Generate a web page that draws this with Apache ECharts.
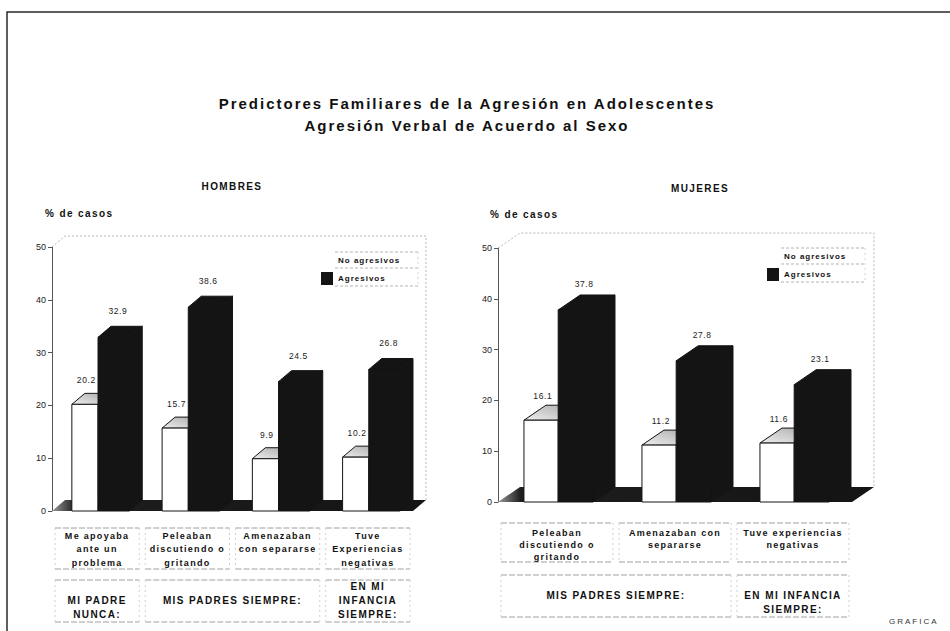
<!DOCTYPE html>
<html>
<head>
<meta charset="utf-8">
<script src="https://cdn.jsdelivr.net/npm/echarts@6/dist/echarts.min.js"></script>
<style>
  html, body { margin: 0; padding: 0; background: #fff; }
  #chart { width: 950px; height: 631px; }
</style>
</head>
<body>
<div id="chart"></div>
<script>
// ---- data ----
const titleLines = ['Predictores Familiares de la Agresión en Adolescentes', 'Agresión Verbal de Acuerdo al Sexo'];
const seriesNames = ['No agresivos', 'Agresivos'];
const axisName = '% de casos';
const footerText = 'GRAFICA';
const yTicks = [0, 10, 20, 30, 40, 50];

const hombresTitle = 'HOMBRES';
const hombresCategories = ['Me apoyaba\nante un\nproblema', 'Peleaban\ndiscutiendo o\ngritando', 'Amenazaban\ncon separarse', 'Tuve\nExperiencias\nnegativas'];
const hombresNoAgresivos = [20.2, 15.7, 9.9, 10.2];
const hombresAgresivos = [32.9, 38.6, 24.5, 26.8];
const hombresGroups = [
  { label: 'MI PADRE\nNUNCA:', from: 0, to: 0 },
  { label: 'MIS PADRES SIEMPRE:', from: 1, to: 2 },
  { label: 'EN MI\nINFANCIA\nSIEMPRE:', from: 3, to: 3 }
];

const mujeresTitle = 'MUJERES';
const mujeresCategories = ['Peleaban\ndiscutiendo o\ngritando', 'Amenazaban con\nsepararse', 'Tuve experiencias\nnegativas'];
const mujeresNoAgresivos = [16.1, 11.2, 11.6];
const mujeresAgresivos = [37.8, 27.8, 23.1];
const mujeresGroups = [
  { label: 'MIS PADRES SIEMPRE:', from: 0, to: 1 },
  { label: 'EN MI INFANCIA\nSIEMPRE:', from: 2, to: 2 }
];

// ---- layout ----
const FONT = '"Liberation Sans", Arial, sans-serif';
const BLACK = '#141414';
const WHITE_L = -0.28, WHITE_R = 0.01;

const panels = [
  {
    title: hombresTitle, cats: hombresCategories, noAgr: hombresNoAgresivos, agr: hombresAgresivos, groups: hombresGroups,
    grid: { left: 52, top: 247, width: 361, height: 264 }, dx: 13, dy: -11, bR: 0.356,
    legend: { left: 321, top: 254, x0: 321, x1: 418, ys: [252, 268, 286] },
    header: [232, 186], name: [45, 213],
    row1: { top: 528, bottom: 569, lh: 13.5, margin: 18 },
    row2: { top: 580, bottom: 622, textTop: 593, lh: 14 }
  },
  {
    title: mujeresTitle, cats: mujeresCategories, noAgr: mujeresNoAgresivos, agr: mujeresAgresivos, groups: mujeresGroups,
    grid: { left: 498, top: 248, width: 354, height: 254 }, dx: 22, dy: -15, bR: 0.305,
    legend: { left: 767, top: 250, x0: 767, x1: 865, ys: [248, 264, 282] },
    header: [700, 188], name: [490, 214],
    row1: { top: 523, bottom: 562, lh: 12, margin: 25 },
    row2: { top: 575, bottom: 617, textTop: 588, lh: 14.5 }
  }
];

// 3D floor and back wall drawn from the coordinate system of each grid
function floorItem(p) {
  return function (params, api) {
    const cs = params.coordSys;
    const x = cs.x, y = cs.y, w = cs.width, h = cs.height, dx = p.dx, dy = p.dy;
    const wall = { stroke: '#b8b8b8', lineWidth: 1, lineDash: [2, 2], fill: null };
    return {
      type: 'group',
      children: [
        { type: 'polyline', shape: { points: [[x, y], [x + dx, y + dy], [x + w + dx, y + dy], [x + w + dx, y + h + dy]] }, style: wall },
        {
          type: 'polygon',
          shape: { points: [[x, y + h], [x + w, y + h], [x + w + dx, y + h + dy], [x + dx, y + h + dy]] },
          style: {
            fill: { type: 'linear', x: 0, y: 0, x2: 1, y2: 0, colorStops: [
              { offset: 0, color: '#9a9a9a' }, { offset: 0.06, color: '#1e1e1e' }, { offset: 1, color: BLACK }
            ] }
          }
        }
      ]
    };
  };
}

// 3D bar: front face, top face and (for the dark series) right side, plus its value label
function barItem(p, dark) {
  return function (params, api) {
    const i = api.value(0), v = api.value(1);
    const base = api.coord([i, 0]), top = api.coord([i, v]);
    const bw = api.size([1, 0])[0];
    const c = base[0], y0 = base[1], y1 = top[1], dx = p.dx, dy = p.dy;
    const x0 = c + (dark ? WHITE_R : WHITE_L) * bw;
    const x1 = c + (dark ? p.bR : WHITE_R) * bw;
    const stroke = '#141414';
    const children = [];
    if (dark) {
      children.push({ type: 'polygon', shape: { points: [[x1, y1], [x1 + dx, y1 + dy], [x1 + dx, y0 + dy], [x1, y0]] }, style: { fill: BLACK, stroke: BLACK, lineWidth: 1 } });
    }
    children.push({
      type: 'polygon',
      shape: { points: [[x0, y1], [x1, y1], [x1 + dx, y1 + dy], [x0 + dx, y1 + dy]] },
      style: {
        fill: dark ? BLACK : { type: 'linear', x: 0, y: 1, x2: 1, y2: 0, colorStops: [{ offset: 0, color: '#eeeeee' }, { offset: 1, color: '#a8a8a8' }] },
        stroke: stroke, lineWidth: 1
      }
    });
    children.push({ type: 'rect', shape: { x: x0, y: y1, width: x1 - x0, height: y0 - y1 }, style: { fill: dark ? BLACK : '#fff', stroke: stroke, lineWidth: 1 } });
    children.push({
      type: 'text',
      style: {
        text: v.toFixed(1), x: c + (dark ? 0.23 : -0.12) * bw, y: y1 - (dark ? 26 : 24),
        align: 'center', verticalAlign: 'middle', font: '8.5px ' + FONT, fill: '#222'
      }
    });
    return { type: 'group', children };
  };
}

const grids = [], xAxes = [], yAxes = [], series = [], legends = [], graphics = [];

// frame
graphics.push({ type: 'polyline', silent: true, shape: { points: [[7, 631], [7, 12], [950, 12]] }, style: { stroke: '#2a2a2a', lineWidth: 1.5, fill: null } });
// main title
titleLines.forEach((t, k) => {
  graphics.push({ type: 'text', silent: true, style: { text: t, x: 467, y: 103 + k * 22, align: 'center', verticalAlign: 'middle', font: 'bold 15px ' + FONT, fill: '#111' } });
});
// footer
graphics.push({ type: 'text', silent: true, style: { text: footerText, x: 889, y: 621, align: 'left', verticalAlign: 'middle', font: '8px ' + FONT, fill: '#333' } });

// table lines: darker rules, faint dividers
const rule = { stroke: '#a0a0a0', lineWidth: 1, lineDash: [6, 2], fill: null };
const divider = { stroke: '#d0d0d0', lineWidth: 1, lineDash: [2, 3], fill: null };
function cell(x0, x1, y0, y1) {
  graphics.push({ type: 'line', silent: true, shape: { x1: x0, y1: y0, x2: x1, y2: y0 }, style: rule });
  graphics.push({ type: 'line', silent: true, shape: { x1: x0, y1: y1, x2: x1, y2: y1 }, style: rule });
  graphics.push({ type: 'line', silent: true, shape: { x1: x0, y1: y0, x2: x0, y2: y1 }, style: divider });
  graphics.push({ type: 'line', silent: true, shape: { x1: x1, y1: y0, x2: x1, y2: y1 }, style: divider });
}

panels.forEach((p, k) => {
  const g = p.grid, n = p.cats.length, band = g.width / n;
  grids.push({ left: g.left, top: g.top, width: g.width, height: g.height });
  xAxes.push({
    type: 'category', gridIndex: k, data: p.cats,
    axisLine: { show: false }, axisTick: { show: false },
    axisLabel: { interval: 0, margin: p.row1.margin, fontFamily: FONT, fontSize: 9, fontWeight: 'bold', lineHeight: p.row1.lh, color: '#111', verticalAlign: 'top' }
  });
  yAxes.push({
    type: 'value', gridIndex: k, min: yTicks[0], max: yTicks[yTicks.length - 1], interval: yTicks[1] - yTicks[0],
    axisLine: { show: true, lineStyle: { color: '#555', width: 1 } },
    axisTick: { show: true, length: 4, lineStyle: { color: '#555' } },
    splitLine: { show: false },
    axisLabel: { margin: 6, fontFamily: FONT, fontSize: 9, color: '#222' }
  });
  series.push({ type: 'custom', xAxisIndex: k, yAxisIndex: k, data: [[0, 0]], renderItem: floorItem(p), silent: true, z: 1 });
  series.push({ type: 'custom', name: seriesNames[0], xAxisIndex: k, yAxisIndex: k, itemStyle: { color: '#fff' }, data: p.noAgr.map((v, i) => [i, v]), encode: { x: 0, y: 1 }, renderItem: barItem(p, false), silent: true, z: 2 });
  series.push({ type: 'custom', name: seriesNames[1], xAxisIndex: k, yAxisIndex: k, itemStyle: { color: BLACK }, data: p.agr.map((v, i) => [i, v]), encode: { x: 0, y: 1 }, renderItem: barItem(p, true), silent: true, z: 3 });
  legends.push({
    data: seriesNames, orient: 'vertical', left: p.legend.left, top: p.legend.top, padding: 0,
    itemWidth: 12, itemHeight: 13, itemGap: 5, icon: 'rect', selectedMode: false,
    textStyle: { fontFamily: FONT, fontSize: 8, fontWeight: 'bold', color: '#111' }
  });

  // legend frame lines
  const L = p.legend, dash = { stroke: '#b4b4b4', lineWidth: 1, lineDash: [3, 2], fill: null };
  L.ys.forEach(y => graphics.push({ type: 'line', silent: true, shape: { x1: L.x0 + 14, y1: y, x2: L.x1, y2: y }, style: dash }));
  graphics.push({ type: 'line', silent: true, shape: { x1: L.x1, y1: L.ys[0], x2: L.x1, y2: L.ys[2] }, style: { stroke: '#d4d4d4', lineWidth: 1, lineDash: [2, 3] } });

  // panel header and axis caption
  graphics.push({ type: 'text', silent: true, style: { text: p.title, x: p.header[0], y: p.header[1], align: 'center', verticalAlign: 'middle', font: 'bold 10px ' + FONT, fill: '#111' } });
  graphics.push({ type: 'text', silent: true, style: { text: axisName, x: p.name[0], y: p.name[1], align: 'left', verticalAlign: 'middle', font: 'bold 10px ' + FONT, fill: '#111' } });

  // category cells
  for (let i = 0; i < n; i++) {
    cell(g.left + i * band + 3, g.left + (i + 1) * band - 3, p.row1.top, p.row1.bottom);
  }
  // group cells and labels
  p.groups.forEach(gr => {
    const xs = g.left + gr.from * band, xe = g.left + (gr.to + 1) * band;
    cell(xs + 3, xe - 3, p.row2.top, p.row2.bottom);
    const lines = gr.label.split('\n').length;
    graphics.push({
      type: 'text', silent: true,
      style: {
        text: gr.label, x: (xs + xe) / 2, y: p.row2.textTop - Math.max(0, lines - 2) * p.row2.lh,
        align: 'center', verticalAlign: 'top', lineHeight: p.row2.lh, font: 'bold 10px ' + FONT, fill: '#111'
      }
    });
  });
});

const chart = echarts.init(document.getElementById('chart'), null, { renderer: 'svg' });
chart.setOption({
  backgroundColor: '#fff',
  animation: false,
  grid: grids, xAxis: xAxes, yAxis: yAxes, legend: legends, series: series, graphic: graphics
});

// tracking of the typeset text, per weight and size
const tracking = { b15: 2, b10: 1.4, b9: 1.3, b8: 1, n8_5: 0.6, n8: 2 };
function applyTracking() {
  document.querySelectorAll('#chart svg text').forEach(t => {
    const cs = getComputedStyle(t);
    const w = (cs.fontWeight === '700' || cs.fontWeight === 'bold') ? 'b' : 'n';
    const key = w + String(parseFloat(cs.fontSize)).replace('.', '_');
    if (tracking[key] != null) t.style.letterSpacing = tracking[key] + 'px';
  });
}
applyTracking();
chart.on('finished', applyTracking);
setTimeout(applyTracking, 50);
</script>
</body>
</html>
